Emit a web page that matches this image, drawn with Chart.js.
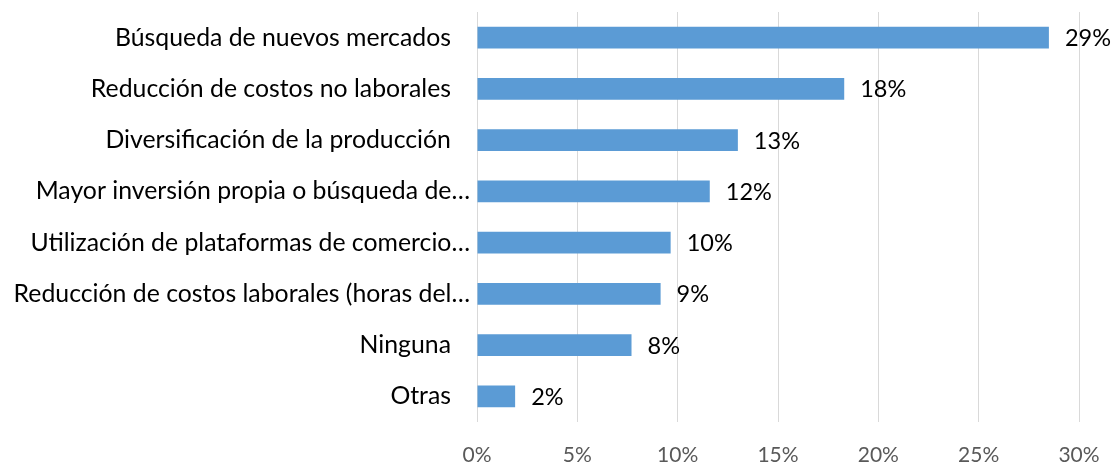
<!DOCTYPE html>
<html>
<head>
<meta charset="utf-8">
<script src="https://cdn.jsdelivr.net/npm/chart.js@4/dist/chart.umd.min.js"></script>
<style>
  html, body { margin: 0; padding: 0; background: #ffffff; }
  #wrap { width: 1117px; height: 464px; position: relative; }
</style>
</head>
<body>
<div id="wrap"><canvas id="c"></canvas></div>
<script>
// Categories (as shown, truncated labels keep their ellipsis; others carry trailing spaces like the source)
const categories = [
  "Búsqueda de nuevos mercados   ",
  "Reducción de costos no laborales   ",
  "Diversificación de la producción   ",
  "Mayor inversión propia o búsqueda de…",
  "Utilización de plataformas de comercio…",
  "Reducción de costos laborales (horas del…",
  "Ninguna   ",
  "Otras   "
];
// Share of firms (%)
const shareValues = [28.5, 18.3, 13.0, 11.6, 9.65, 9.15, 7.7, 1.9];
// X axis ticks
const xTickValues = [0, 5, 10, 15, 20, 25, 30];

const FONT = "Lato, 'Open Sans', sans-serif";

const valueLabels = {
  id: 'valueLabels',
  afterDatasetsDraw(chart) {
    const ctx = chart.ctx;
    const meta = chart.getDatasetMeta(0);
    ctx.save();
    ctx.font = "23.5px " + FONT;
    ctx.fillStyle = "#000000";
    ctx.textAlign = "left";
    ctx.textBaseline = "middle";
    meta.data.forEach((bar, i) => {
      const v = chart.data.datasets[0].data[i];
      ctx.fillText(Math.round(v) + "%", bar.x + 16, bar.y + 1);
    });
    ctx.restore();
  }
};

new Chart(document.getElementById('c'), {
  type: 'bar',
  data: {
    labels: categories,
    datasets: [{
      data: shareValues,
      backgroundColor: '#5B9BD5',
      borderWidth: 0,
      barPercentage: 0.42,
      categoryPercentage: 1.0
    }]
  },
  options: {
    indexAxis: 'y',
    responsive: true,
    maintainAspectRatio: false,
    animation: false,
    layout: { padding: { left: 0, right: 38, top: 12, bottom: 0 } },
    plugins: { legend: { display: false }, tooltip: { enabled: false } },
    scales: {
      x: {
        min: 0, max: 30,
        afterBuildTicks(scale) { scale.ticks = xTickValues.map(v => ({ value: v })); },
        afterFit(scale) { scale.height = 42; scale.paddingLeft = 0; scale.paddingRight = 0; },
        grid: { color: '#D9D9D9', lineWidth: 1, drawTicks: false },
        border: { display: false },
        ticks: {
          padding: 21,
          color: '#595959',
          font: { family: FONT, size: 21 },
          callback: (v) => v + '%'
        }
      },
      y: {
        afterFit(scale) { scale.width = 477; scale.paddingTop = 0; scale.paddingBottom = 0; },
        grid: { display: false, drawTicks: false },
        border: { display: false },
        ticks: {
          padding: 7,
          color: '#000000',
          font: { family: FONT, size: 24.8 },
          autoSkip: false
        }
      }
    }
  },
  plugins: [valueLabels]
});
</script>
</body>
</html>
